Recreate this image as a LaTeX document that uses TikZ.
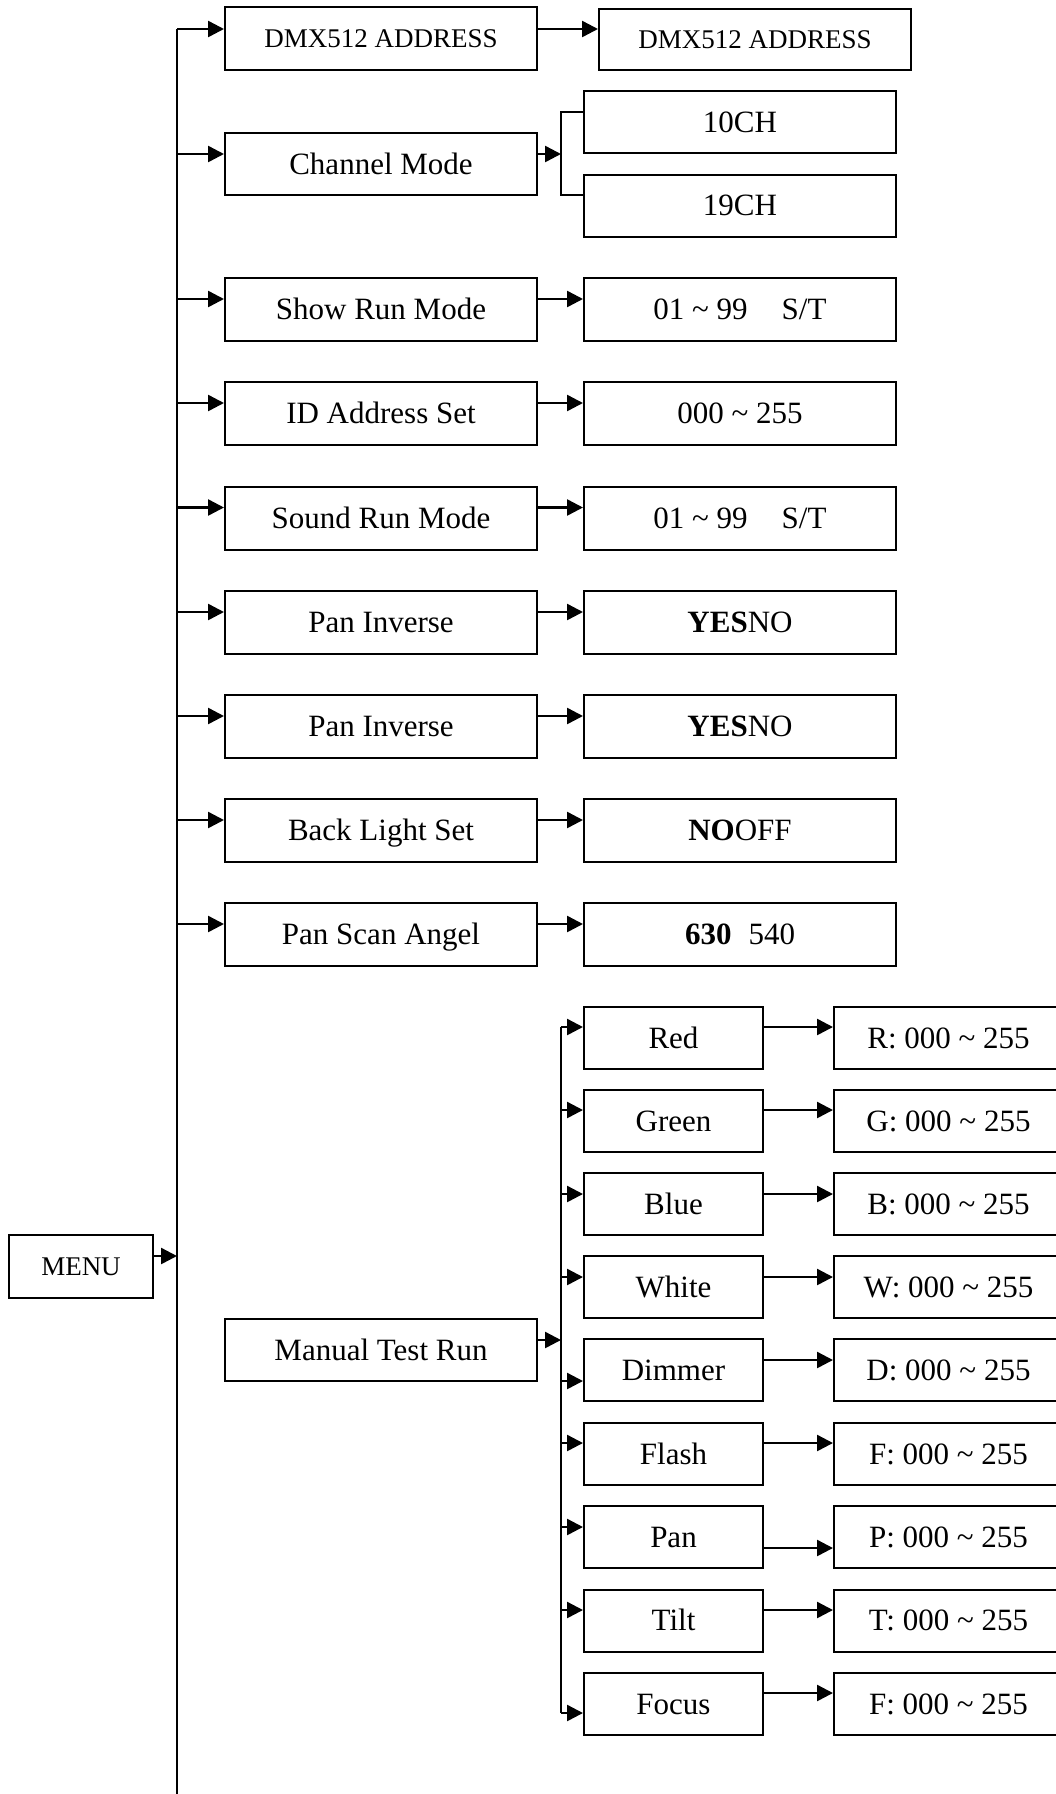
\documentclass[tikz,border=0pt]{standalone}
\usepackage{fontspec}
\setmainfont{Liberation Serif}
\usetikzlibrary{arrows.meta}
\begin{document}
\begin{tikzpicture}[x=1pt,y=-1pt,
  box/.style={draw=black,line width=2pt,rectangle,inner sep=0pt,minimum height=62pt,
    font=\fontsize{31}{36}\selectfont,text height=20.3pt,text depth=0pt},
  smallfont/.style={font=\fontsize{27}{32}\selectfont,text height=17.7pt},
  lbox/.style={box,minimum width=312pt},
  rbox/.style={box,minimum width=312pt},
  sbox/.style={box,minimum width=179pt},
  vbox/.style={box,minimum width=229pt},
  arr/.style={line width=2.5pt,-{Triangle[length=16pt,width=16pt]}},
  trunk/.style={line width=1.6pt},
]
\clip (0,0) rectangle (1056,1794);
\fill[white] (0,0) rectangle (1056,1794);

% ---- main column boxes
\node[lbox,smallfont,minimum height=63pt] (dmx1) at (381,38.5) {DMX512 ADDRESS};
\node[rbox,smallfont,minimum height=61pt] (dmx2) at (755,39.5) {DMX512 ADDRESS};
\node[lbox] (chm) at (381,164) {Channel Mode};
\node[rbox] (c10) at (740,122) {10CH};
\node[rbox] (c19) at (740,205.5) {19CH};
\node[lbox,minimum height=63pt] (srm) at (381,309.5) {Show Run Mode};
\node[rbox,minimum height=63pt] (srmv) at (740,309.5) {01 \textasciitilde{} 99\hspace{34pt}S/T};
\node[lbox,minimum height=63pt] (ids) at (381,413.5) {ID Address Set};
\node[rbox,minimum height=63pt] (idsv) at (740,413.5) {000 \textasciitilde{} 255};
\node[lbox,minimum height=63pt] (snd) at (381,518) {Sound Run Mode};
\node[rbox,minimum height=63pt] (sndv) at (740,518) {01 \textasciitilde{} 99\hspace{34pt}S/T};
\node[lbox,minimum height=63pt] (pi1) at (381,622.5) {Pan Inverse};
\node[rbox,minimum height=63pt] (pi1v) at (740,622.5) {\textbf{YES}NO\hspace{66pt}};
\node[lbox,minimum height=63pt] (pi2) at (381,726.5) {Pan Inverse};
\node[rbox,minimum height=63pt] (pi2v) at (740,726.5) {\textbf{YES}NO\hspace{66pt}};
\node[lbox,minimum height=63pt] (bls) at (381,830.5) {Back Light Set};
\node[rbox,minimum height=63pt] (blsv) at (740,830.5) {\textbf{NO}OFF};
\node[lbox,minimum height=63pt] (psa) at (381,934.5) {Pan Scan Angel};
\node[rbox,minimum height=63pt] (psav) at (740,934.5) {\textbf{630}\hspace{17pt}540};

\node[box,smallfont,minimum width=144pt,minimum height=63pt] (menu) at (81,1266.5) {MENU};
\node[lbox] (mtr) at (381,1350) {Manual Test Run};

% ---- sub boxes
\node[sbox] (red) at (673.5,1038) {Red};
\node[vbox] (redv) at (948.5,1038) {R: 000 \textasciitilde{} 255};
\node[sbox] (grn) at (673.5,1121) {Green};
\node[vbox] (grnv) at (948.5,1121) {G: 000 \textasciitilde{} 255};
\node[sbox] (blu) at (673.5,1204) {Blue};
\node[vbox] (bluv) at (948.5,1204) {B: 000 \textasciitilde{} 255};
\node[sbox] (wht) at (673.5,1287) {White};
\node[vbox] (whtv) at (948.5,1287) {W: 000 \textasciitilde{} 255};
\node[sbox] (dim) at (673.5,1370) {Dimmer};
\node[vbox] (dimv) at (948.5,1370) {D: 000 \textasciitilde{} 255};
\node[sbox] (fla) at (673.5,1454) {Flash};
\node[vbox] (flav) at (948.5,1454) {F: 000 \textasciitilde{} 255};
\node[sbox] (pan) at (673.5,1537) {Pan};
\node[vbox] (panv) at (948.5,1537) {P: 000 \textasciitilde{} 255};
\node[sbox] (tlt) at (673.5,1620.5) {Tilt};
\node[vbox] (tltv) at (948.5,1620.5) {T: 000 \textasciitilde{} 255};
\node[sbox] (foc) at (673.5,1704) {Focus};
\node[vbox] (focv) at (948.5,1704) {F: 000 \textasciitilde{} 255};

% ---- trunk
\coordinate (ttop) at (177,29);
\coordinate (tbot) at (177,1794);
\draw[trunk] (ttop) -- (tbot);
\foreach \n/\yy in {dmx1/29,chm/154,srm/299,ids/403,snd/507.5,pi1/612,pi2/716,bls/820,psa/924}{
  \coordinate (t\n) at (177,\yy);
  \draw[arr] (t\n) -- (t\n -| \n.west);
}
\foreach \n/\yy in {dmx1/29,srm/299,ids/403,snd/507.5,pi1/612,pi2/716,bls/820,psa/924}{
  \coordinate (r\n) at (537,\yy);
}
\draw[arr] (rdmx1 -| dmx1.east) -- (rdmx1 -| dmx2.west);
\draw[arr] (rsrm -| srm.east) -- (rsrm -| srmv.west);
\draw[arr] (rids -| ids.east) -- (rids -| idsv.west);
\draw[arr] (rsnd -| snd.east) -- (rsnd -| sndv.west);
\draw[arr] (rpi1 -| pi1.east) -- (rpi1 -| pi1v.west);
\draw[arr] (rpi2 -| pi2.east) -- (rpi2 -| pi2v.west);
\draw[arr] (rbls -| bls.east) -- (rbls -| blsv.west);
\draw[arr] (rpsa -| psa.east) -- (rpsa -| psav.west);

% ---- MENU arrow
\coordinate (menuy) at (153,1256);
\draw[arr] (menuy -| menu.east) -- (menuy -| ttop);

% ---- channel mode bracket
\coordinate (bktop) at (561,112);
\coordinate (bkbot) at (561,195);
\coordinate (bkmid) at (561,154);
\draw[arr] (bkmid -| chm.east) -- (bkmid);
\draw[trunk] (bktop -| c10.west) -- (bktop) -- (bkbot) -- (bkbot -| c19.west);

% ---- manual test run branch
\coordinate (btop) at (561,1027);
\coordinate (bbot) at (561,1713);
\draw[trunk] (btop) -- (bbot);
\coordinate (bmtr) at (561,1340);
\draw[arr] (bmtr -| mtr.east) -- (bmtr);
\foreach \n/\yy in {red/1027,grn/1110,blu/1194,wht/1277,dim/1381,fla/1443,pan/1527,tlt/1610,foc/1713}{
  \coordinate (b\n) at (561,\yy);
  \draw[arr] (b\n) -- (b\n -| \n.west);
}
\foreach \n/\yy in {red/1027,grn/1110,blu/1194,wht/1277,dim/1360,fla/1443,pan/1548,tlt/1610,foc/1693}{
  \coordinate (v\n) at (763,\yy);
  \draw[arr] (v\n -| \n.east) -- (v\n -| \n v.west);
}
\end{tikzpicture}
\end{document}
